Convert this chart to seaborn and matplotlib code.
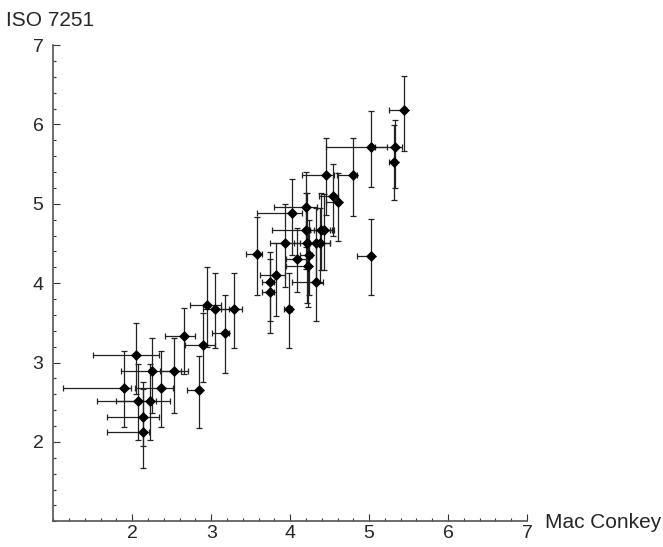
import matplotlib
matplotlib.use("Agg")
import matplotlib.pyplot as plt
from matplotlib.ticker import MultipleLocator
import seaborn as sns
import pandas as pd
import numpy as np

# Data (Mac Conkey vs ISO 7251), with bar ends
mac_conkey = [2.95, 3.05, 3.29, 2.66, 3.17, 2.90, 2.05, 2.25, 2.53, 1.90, 2.37, 2.84,
              2.07, 2.23, 2.14, 2.14,
              4.46, 4.79, 4.54, 4.61, 4.02, 4.20, 4.20, 4.39, 4.43, 3.58, 3.93, 4.21,
              4.33, 4.38, 4.09, 4.24, 4.22, 3.82, 3.75, 3.74, 4.33, 3.98, 5.02, 5.44,
              5.02, 5.33, 5.31]
iso_7251 = [3.72, 3.68, 3.68, 3.34, 3.37, 3.22, 3.10, 2.89, 2.89, 2.68, 2.68, 2.65,
            2.51, 2.51, 2.32, 2.13,
            5.36, 5.36, 5.10, 5.02, 4.88, 4.96, 4.67, 4.67, 4.67, 4.37, 4.50, 4.50,
            4.50, 4.50, 4.31, 4.35, 4.22, 4.10, 4.02, 3.89, 4.02, 3.68, 4.34, 6.18,
            5.72, 5.72, 5.52]
x_low = [2.73, 2.89, 3.13, 2.41, 3.01, 2.67, 1.50, 1.86, 2.35, 1.12, 2.04, 2.69,
         1.55, 1.80, 1.68, 1.68,
         4.15, 4.59, 4.36, 4.45, 3.58, 3.80, 3.77, 4.25, 4.30, 3.44, 3.74, 4.05,
         4.20, 4.25, 3.95, 4.13, 3.95, 3.62, 3.64, 3.64, 4.02, 3.92, 4.85, 5.25,
         4.45, 5.07, 5.25]
x_high = [3.12, 3.22, 3.39, 2.80, 3.22, 3.05, 2.34, 2.62, 2.70, 1.99, 2.51, 2.87,
          2.30, 2.48, 2.34, 2.21,
          4.55, 4.85, 4.60, 4.63, 4.15, 4.34, 4.53, 4.50, 4.55, 3.64, 4.13, 4.40,
          4.50, 4.50, 4.23, 4.28, 4.22, 3.94, 3.80, 3.80, 4.41, 4.02, 5.05, 5.47,
          5.23, 5.42, 5.34]
y_low = [3.20, 3.18, 3.18, 2.85, 2.87, 2.76, 2.60, 2.37, 2.36, 2.19, 2.19, 2.18,
         2.02, 2.02, 1.95, 1.67,
         4.86, 4.85, 4.59, 4.53, 4.36, 4.45, 4.18, 4.17, 4.17, 3.85, 3.95, 3.75,
         4.00, 4.00, 3.89, 3.85, 3.70, 3.59, 3.52, 3.37, 3.52, 3.18, 3.85, 5.66,
         5.21, 5.20, 5.05]
y_high = [4.20, 4.13, 4.13, 3.69, 3.85, 3.62, 3.50, 3.31, 3.31, 3.15, 3.15, 3.08,
          2.98, 2.98, 2.75, 2.67,
          5.83, 5.83, 5.50, 5.39, 5.31, 5.40, 5.14, 5.14, 5.12, 4.83, 5.00, 5.14,
          4.95, 4.95, 4.70, 4.80, 4.65, 4.50, 4.39, 4.31, 4.52, 4.13, 4.81, 6.61,
          6.17, 6.06, 5.99]

x_ticks = [2, 3, 4, 5, 6, 7]
y_ticks = [2, 3, 4, 5, 6, 7]

df = pd.DataFrame({"Mac Conkey": mac_conkey, "ISO 7251": iso_7251,
                   "xlo": x_low, "xhi": x_high, "ylo": y_low, "yhi": y_high})

sns.set_style("ticks")
plt.rcParams["font.family"] = ["Liberation Sans", "DejaVu Sans"]

fig = plt.figure(figsize=(6.63, 5.47), dpi=100)
ax = fig.add_axes([0.0804, 0.0470, 0.7145, 0.8707])

xerr = np.vstack([df["Mac Conkey"] - df["xlo"], df["xhi"] - df["Mac Conkey"]])
yerr = np.vstack([df["ISO 7251"] - df["ylo"], df["yhi"] - df["ISO 7251"]])
ax.errorbar(df["Mac Conkey"], df["ISO 7251"], xerr=xerr, yerr=yerr, fmt="none",
            ecolor="#222222", elinewidth=0.9, capsize=2.5, capthick=0.9, zorder=2)
sns.scatterplot(data=df, x="Mac Conkey", y="ISO 7251", ax=ax, marker="D", s=26,
                color="black", edgecolor="black", linewidth=0.5, zorder=3)

ax.set_xlim(1, 7)
ax.set_ylim(1, 7)
ax.set_xticks(x_ticks)
ax.set_yticks(y_ticks)
ax.xaxis.set_minor_locator(MultipleLocator(0.2))
ax.yaxis.set_minor_locator(MultipleLocator(0.2))
ax.tick_params(which="major", direction="in", length=5, width=0.8, color="#333333",
               labelsize=14)
ax.tick_params(axis="x", which="major", pad=3)
ax.tick_params(axis="y", which="major", pad=7)
ax.tick_params(which="minor", direction="in", length=2.5, width=0.8, color="#333333")
ax.set_xlabel("")
ax.set_ylabel("")
for s in ["top", "right"]:
    ax.spines[s].set_visible(False)
for s in ["left", "bottom"]:
    ax.spines[s].set_color("#555555")
    ax.spines[s].set_linewidth(1.2)

fig.text(6 / 663, 1 - 21 / 547, "ISO 7251", fontsize=15, ha="left", va="center")
fig.text(545 / 663, 1 - 522 / 547, "Mac Conkey", fontsize=15, ha="left", va="center")

fig.savefig("out.png", dpi=100)
